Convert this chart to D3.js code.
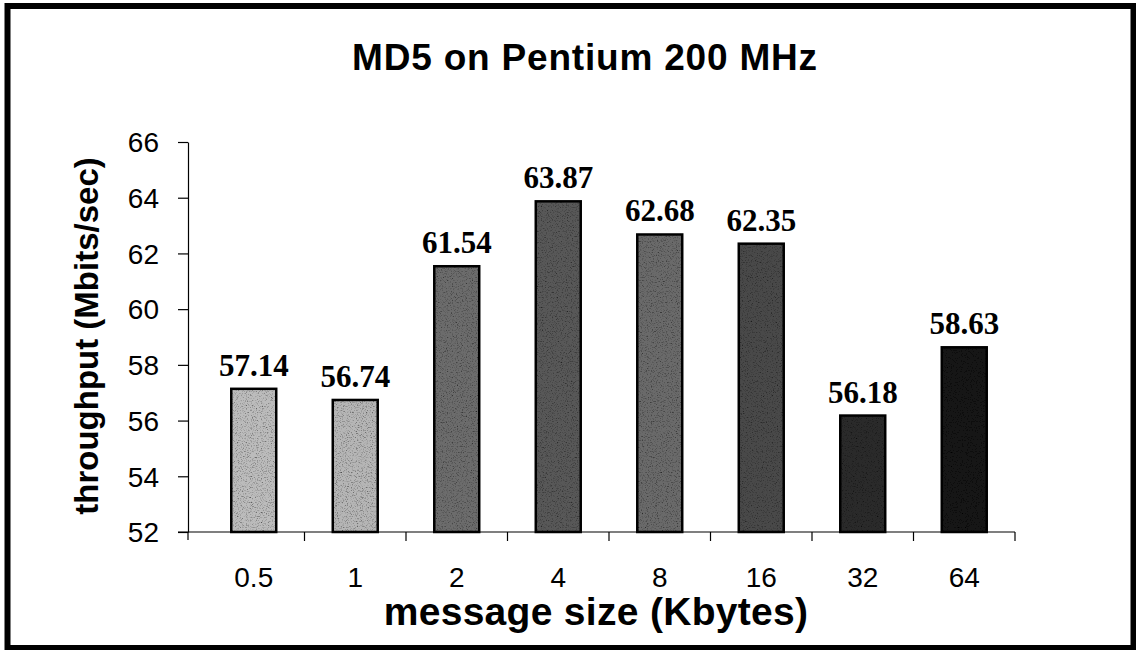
<!DOCTYPE html>
<html>
<head>
<meta charset="utf-8">
<script src="https://cdn.jsdelivr.net/npm/d3@7"></script>
<style>
  html, body { margin: 0; padding: 0; background: #fff; }
  svg { display: block; }
</style>
</head>
<body>
<svg id="chart" width="1136" height="650"></svg>
<script>
const categories = ["0.5", "1", "2", "4", "8", "16", "32", "64"];
const throughput = [57.14, 56.74, 61.54, 63.87, 62.68, 62.35, 56.18, 58.63];
const barGrays = ["#bcbcbc", "#b6b6b6", "#6c6c6c", "#585858", "#6a6a6a", "#4a4a4a", "#2c2c2c", "#161616"];
const yTicks = [52, 54, 56, 58, 60, 62, 64, 66];
const titleText = "MD5 on Pentium 200 MHz";
const xTitle = "message size (Kbytes)";
const yTitle = "throughput (Mbits/sec)";

const svg = d3.select("#chart");

// grain filter for stippled bars
const defs = svg.append("defs");
const f = defs.append("filter").attr("id", "grain").attr("x", 0).attr("y", 0).attr("width", 1).attr("height", 1);
f.append("feTurbulence").attr("type", "fractalNoise").attr("baseFrequency", "0.8").attr("numOctaves", 2).attr("seed", 7).attr("result", "noise");
f.append("feColorMatrix").attr("in", "noise").attr("type", "matrix")
  .attr("values", "2.2 0 0 0 -0.1  2.2 0 0 0 -0.1  2.2 0 0 0 -0.1  0 0 0 0 1").attr("result", "gnoise");
f.append("feBlend").attr("in", "SourceGraphic").attr("in2", "gnoise").attr("mode", "multiply").attr("result", "mix");
f.append("feComposite").attr("in", "mix").attr("in2", "SourceGraphic").attr("operator", "in");

// frame
svg.append("rect").attr("x", 7.5).attr("y", 6).attr("width", 1126).attr("height", 642)
  .attr("fill", "none").attr("stroke", "#000").attr("stroke-width", 6);
svg.append("line").attr("x1", 1133.5).attr("x2", 1133.5).attr("y1", 6).attr("y2", 648)
  .attr("stroke", "#000").attr("stroke-width", 1.5);

const plotLeft = 188, plotRight = 1015, plotTop = 142, plotBottom = 532;

const x = d3.scaleBand().domain(categories).range([203, plotRight]).paddingInner(0.557).paddingOuter(0.2785);
const y = d3.scaleLinear().domain([52, 66]).range([plotBottom, plotTop]);

// y axis
const yAxis = d3.axisLeft(y).tickValues(yTicks).tickSize(10).tickPadding(19).tickSizeOuter(0);
const gy = svg.append("g").attr("transform", `translate(${plotLeft},0)`).call(yAxis);
gy.select(".domain").attr("stroke", "#000").attr("stroke-width", 1.2);
gy.selectAll(".tick line").attr("stroke", "#000").attr("stroke-width", 1.2);
gy.selectAll(".tick text").attr("font-family", "Liberation Sans, Arial, sans-serif").attr("font-size", 28).attr("fill", "#000").attr("dy", "0.35em");

// x axis: line + boundary ticks
const step = x.step();
const x0 = x.range()[0];
const boundaries = d3.range(1, categories.length + 1).map(i => x0 + i * step);
svg.append("line").attr("x1", 178).attr("x2", plotRight).attr("y1", plotBottom).attr("y2", plotBottom)
  .attr("stroke", "#000").attr("stroke-width", 1.2);
svg.append("line").attr("x1", plotLeft).attr("x2", plotLeft).attr("y1", plotBottom).attr("y2", plotBottom + 8)
  .attr("stroke", "#000").attr("stroke-width", 1.2);
svg.selectAll(".xb").data(boundaries).enter().append("line").attr("class", "xb")
  .attr("x1", d => d).attr("x2", d => d).attr("y1", plotBottom).attr("y2", plotBottom + 9)
  .attr("stroke", "#000").attr("stroke-width", 1.2);
svg.selectAll(".xl").data(categories).enter().append("text").attr("class", "xl")
  .attr("x", d => x(d) + x.bandwidth() / 2).attr("y", 587)
  .attr("text-anchor", "middle").attr("font-family", "Liberation Sans, Arial, sans-serif")
  .attr("font-size", 28).attr("fill", "#000").text(d => d);

// bars
const bars = svg.append("g");
bars.selectAll(".bar").data(throughput).enter().append("rect").attr("class", "bar")
  .attr("x", (d, i) => x(categories[i]))
  .attr("y", d => y(d))
  .attr("width", x.bandwidth())
  .attr("height", d => y(52) - y(d))
  .attr("fill", (d, i) => barGrays[i])
  .attr("filter", "url(#grain)");
bars.selectAll(".outline").data(throughput).enter().append("rect").attr("class", "outline")
  .attr("x", (d, i) => x(categories[i]))
  .attr("y", d => y(d))
  .attr("width", x.bandwidth())
  .attr("height", d => y(52) - y(d))
  .attr("fill", "none").attr("stroke", "#000").attr("stroke-width", 2.5);

// value labels
svg.selectAll(".vl").data(throughput).enter().append("text").attr("class", "vl")
  .attr("x", (d, i) => x(categories[i]) + x.bandwidth() / 2)
  .attr("y", d => y(d) - 13)
  .attr("text-anchor", "middle")
  .attr("font-family", "Liberation Serif, Times New Roman, serif").attr("font-weight", "bold")
  .attr("font-size", 31).attr("fill", "#000")
  .text(d => d.toFixed(2));

// titles
svg.append("text").attr("x", 585).attr("y", 70).attr("text-anchor", "middle")
  .attr("font-family", "Liberation Sans, Arial, sans-serif").attr("font-weight", "bold")
  .attr("font-size", 37).attr("letter-spacing", 0.8).attr("fill", "#000").text(titleText);
svg.append("text").attr("x", 596).attr("y", 625).attr("text-anchor", "middle")
  .attr("font-family", "Liberation Sans, Arial, sans-serif").attr("font-weight", "bold")
  .attr("font-size", 39).attr("letter-spacing", 0.3).attr("fill", "#000").text(xTitle);
svg.append("text").attr("transform", "translate(98,336) rotate(-90)").attr("text-anchor", "middle")
  .attr("font-family", "Liberation Sans, Arial, sans-serif").attr("font-weight", "bold")
  .attr("font-size", 33).attr("fill", "#000").text(yTitle);
</script>
</body>
</html>
